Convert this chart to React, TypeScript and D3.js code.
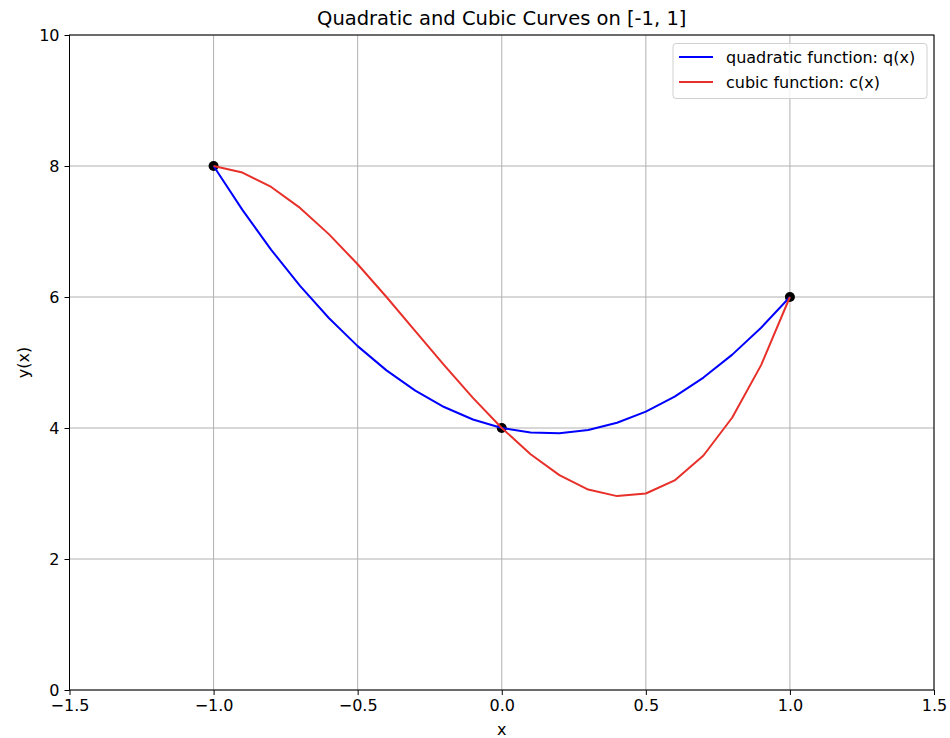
import React, { useEffect, useRef } from "react";
import * as d3 from "d3";

// sample points on [-1, 1]
const xs = [-1, -0.9, -0.8, -0.7, -0.6, -0.5, -0.4, -0.3, -0.2, -0.1, 0, 0.1, 0.2, 0.3, 0.4, 0.5, 0.6, 0.7, 0.8, 0.9, 1];
const quadValues = [8, 7.33, 6.72, 6.17, 5.68, 5.25, 4.88, 4.57, 4.32, 4.13, 4, 3.93, 3.92, 3.97, 4.08, 4.25, 4.48, 4.77, 5.12, 5.53, 6];
const cubicValues = [8, 7.9, 7.68, 7.36, 6.96, 6.5, 6.0, 5.48, 4.96, 4.46, 4, 3.6, 3.28, 3.06, 2.96, 3.0, 3.2, 3.58, 4.16, 4.96, 6];
const nodeX = [-1, 0, 1];
const nodeY = [8, 4, 6];
const xTicks = [-1.5, -1.0, -0.5, 0.0, 0.5, 1.0, 1.5];
const yTicks = [0, 2, 4, 6, 8, 10];
const seriesNames = ["quadratic function: q(x)", "cubic function: c(x)"];
const seriesColors = ["#0000ff", "#e8302a"];

const W = 950;
const H = 738;
const margin = { top: 35, right: 16, bottom: 48, left: 69.5 };
const FONT = "DejaVu Sans, sans-serif";
const FS = 16;

const App = () => {
    const ref = useRef<SVGSVGElement>(null);

    useEffect(() => {
        const svg = d3.select(ref.current);
        svg.selectAll("*").remove();

        const innerW = W - margin.left - margin.right;
        const innerH = H - margin.top - margin.bottom;

        svg.append("rect").attr("width", W).attr("height", H).attr("fill", "#fff");

        const g = svg.append("g").attr("transform", `translate(${margin.left},${margin.top})`);

        const x = d3.scaleLinear().domain([-1.5, 1.5]).range([0, innerW]);
        const y = d3.scaleLinear().domain([0, 10]).range([innerH, 0]);

        // grid
        g.append("g")
            .selectAll("line")
            .data(xTicks)
            .join("line")
            .attr("x1", d => x(d)).attr("x2", d => x(d))
            .attr("y1", 0).attr("y2", innerH)
            .attr("stroke", "#b0b0b0").attr("stroke-width", 1);
        g.append("g")
            .selectAll("line")
            .data(yTicks)
            .join("line")
            .attr("x1", 0).attr("x2", innerW)
            .attr("y1", d => y(d)).attr("y2", d => y(d))
            .attr("stroke", "#b0b0b0").attr("stroke-width", 1);

        // node points (under the curves)
        g.append("g")
            .selectAll("circle")
            .data(nodeX)
            .join("circle")
            .attr("cx", d => x(d))
            .attr("cy", (d, i) => y(nodeY[i]))
            .attr("r", 5)
            .attr("fill", "#000");

        const line = d3.line<number>()
            .x((d, i) => x(xs[i]))
            .y(d => y(d));

        [quadValues, cubicValues].forEach((vals, i) => {
            g.append("path")
                .datum(vals)
                .attr("d", line)
                .attr("fill", "none")
                .attr("stroke", seriesColors[i])
                .attr("stroke-width", 2)
                .attr("stroke-linejoin", "round");
        });

        // frame
        g.append("rect")
            .attr("width", innerW).attr("height", innerH)
            .attr("fill", "none").attr("stroke", "#000").attr("stroke-width", 1);

        // x axis
        const xAxis = g.append("g")
            .attr("transform", `translate(0,${innerH})`)
            .call(d3.axisBottom(x).tickValues(xTicks).tickSize(5).tickPadding(5)
                .tickFormat(d => d3.format(".1f")(d as number).replace("-", "\u2212")));
        xAxis.select(".domain").remove();
        xAxis.attr("font-size", FS).attr("font-family", FONT);
        xAxis.selectAll("text").attr("fill", "#000");

        const yAxis = g.append("g")
            .call(d3.axisLeft(y).tickValues(yTicks).tickSize(5).tickPadding(5).tickFormat(d3.format("d")));
        yAxis.select(".domain").remove();
        yAxis.attr("font-size", FS).attr("font-family", FONT);
        yAxis.selectAll("text").attr("fill", "#000");

        // labels
        svg.append("text")
            .attr("x", margin.left + innerW / 2).attr("y", 25)
            .attr("text-anchor", "middle")
            .attr("font-family", FONT).attr("font-size", 19.5)
            .text("Quadratic and Cubic Curves on [-1, 1]");
        svg.append("text")
            .attr("x", margin.left + innerW / 2).attr("y", 735)
            .attr("text-anchor", "middle")
            .attr("font-family", FONT).attr("font-size", FS)
            .text("x");
        svg.append("text")
            .attr("transform", `translate(29,${margin.top + innerH / 2}) rotate(-90)`)
            .attr("text-anchor", "middle")
            .attr("font-family", FONT).attr("font-size", FS)
            .text("y(x)");

        // legend
        const lg = svg.append("g").attr("transform", "translate(673,43.5)");
        lg.append("rect")
            .attr("width", 254).attr("height", 55).attr("rx", 3)
            .attr("fill", "#fff").attr("fill-opacity", 0.8)
            .attr("stroke", "#d0d0d0");
        seriesNames.forEach((name, i) => {
            const row = lg.append("g").attr("transform", `translate(0,${13.5 + i * 25})`);
            row.append("line")
                .attr("x1", 6).attr("x2", 40)
                .attr("stroke", seriesColors[i]).attr("stroke-width", 2);
            row.append("text")
                .attr("x", 53).attr("y", 5.5)
                .attr("font-family", FONT).attr("font-size", FS)
                .text(name);
        });
    }, []);

    return <svg ref={ref} width={W} height={H} style={{ display: "block", position: "absolute", left: 0, top: 0 }} />;
};

export default App;
